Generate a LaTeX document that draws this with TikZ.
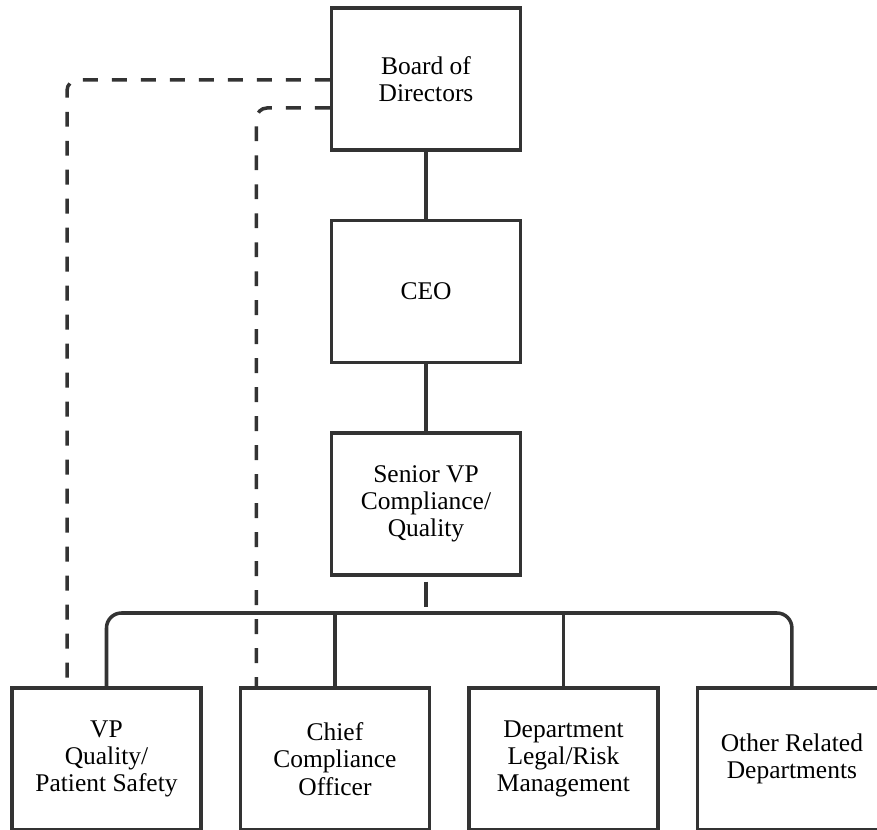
\documentclass[tikz,border=0pt]{standalone}
\usepackage{fontspec}
\setmainfont{Liberation Serif}
\definecolor{boxLine}{RGB}{51, 51, 51}
\usetikzlibrary{positioning, calc}

\begin{document}
\begin{tikzpicture}[
    x=0.02cm, y=-0.02cm,
    node distance=1.34cm,
    orgbox/.style={
      rectangle, draw=boxLine, fill=white,
      minimum height=2.84cm, minimum width=3.78cm,
      font=\fontsize{14.5}{15.5}\selectfont, align=center, line width=2pt
    },
    linkline/.style={draw=boxLine, line width=2pt},
    reportline/.style={draw=boxLine, line width=2pt, dash pattern=on 8.5pt off 8pt, rounded corners=6pt},
  ]
    \useasboundingbox (0,0) rectangle (877,830);

    \node[orgbox] (board) at (426,79) {Board of\\Directors};
    \node[orgbox, below=of board] (ceo) {CEO};
    \node[orgbox, below=of ceo] (svp) {Senior VP\\Compliance/\\Quality};

    \node[orgbox] (vpq) at (106.5,759) {VP\\Quality/\\Patient Safety};
    \node[orgbox, right=0.72cm of vpq] (cco) {Chief\\Compliance\\Officer};
    \node[orgbox, right=0.72cm of cco] (legal) {Department\\Legal/Risk\\Management};
    \node[orgbox, right=0.72cm of legal] (other) {Other Related\\Departments};

    \draw[linkline] (board) -- (ceo);
    \draw[linkline] (ceo) -- (svp);

    % Bus to the departments
    \coordinate (bus) at (426,613);
    \draw[linkline, shorten <=0.1cm, shorten >=0.12cm] (svp.south) -- (bus);
    \draw[linkline, rounded corners=0.3cm] (vpq.north) |- (bus) -| (other.north);
    \foreach \n in {cco, legal} {
      \draw[linkline] (\n.north) -- (\n.north |- bus);
    }

    % Direct reporting to the board
    \draw[reportline] ([yshift=-0.02cm]board.west) -| ([xshift=-0.79cm]vpq.north);
    \draw[reportline] ([yshift=-0.58cm]board.west) -| ([xshift=-1.57cm]cco.north);
  \end{tikzpicture}
\end{document}
